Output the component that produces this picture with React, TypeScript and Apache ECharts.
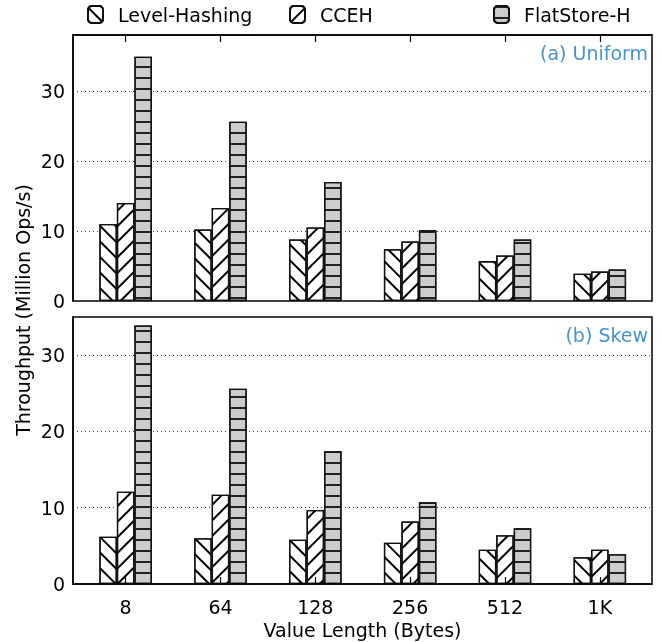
import React, { useEffect, useRef } from 'react';
import * as echarts from 'echarts';

const categories = ['8', '64', '128', '256', '512', '1K'];
const seriesNames = ['Level-Hashing', 'CCEH', 'FlatStore-H'];
const uniformLevel = [11.0, 10.2, 8.8, 7.4, 5.7, 3.9];
const uniformCCEH = [14.0, 13.3, 10.5, 8.5, 6.5, 4.2];
const uniformFlat = [34.9, 25.6, 17.0, 10.1, 8.8, 4.5];
const skewLevel = [6.2, 6.0, 5.8, 5.4, 4.5, 3.5];
const skewCCEH = [12.1, 11.7, 9.7, 8.2, 6.4, 4.5];
const skewFlat = [33.9, 25.6, 17.4, 10.7, 7.3, 3.9];
const panelTitles = ['(a) Uniform', '(b) Skew'];
const yMax = [38, 35];
const xTitle = 'Value Length (Bytes)';
const yTitle = 'Throughput (Million Ops/s)';

const FONT = 'DejaVu Sans';
const FS = 19;
const BLUE = '#4a93c8';

const decals = [
  { symbol: 'rect', symbolSize: 1, color: '#000', backgroundColor: 'transparent', dashArrayX: [1, 0], dashArrayY: [1.25, 8.75], rotation: Math.PI / 4 },
  { symbol: 'rect', symbolSize: 1, color: '#000', backgroundColor: 'transparent', dashArrayX: [1, 0], dashArrayY: [1.25, 8.75], rotation: -Math.PI / 4 },
  { symbol: 'rect', symbolSize: 1, color: '#222', backgroundColor: 'transparent', dashArrayX: [1, 0], dashArrayY: [1.5, 8.5], rotation: 0 },
];
const fills = ['#ffffff', '#ffffff', '#cccccc'];

export default function App() {
  const ref = useRef<HTMLDivElement>(null);
  useEffect(() => {
    if (!ref.current) return;
    const chart = echarts.init(ref.current, null, { renderer: 'svg' });
    const panels = [
      [uniformLevel, uniformCCEH, uniformFlat],
      [skewLevel, skewCCEH, skewFlat],
    ];
    const idx = categories.map((_, i) => i);
    const series: any[] = [];
    panels.forEach((vals, p) => {
      vals.forEach((arr, s) => {
        series.push({
          type: 'bar',
          name: seriesNames[s],
          xAxisIndex: p,
          yAxisIndex: p,
          barWidth: 17.5,
          barGap: '0%',
          data: arr.map((v, i) => [i, v]),
          itemStyle: {
            color: fills[s],
            borderColor: '#111',
            borderWidth: 1.3,
            decal: decals[s],
          },
          emphasis: { disabled: true },
        });
      });
    });
    const grids = [
      { left: 73, top: 35, width: 579, height: 266 },
      { left: 73, top: 317, width: 579, height: 267 },
    ].map((g) => ({ ...g, show: true, borderColor: '#000', borderWidth: 1.5, backgroundColor: 'transparent' }));

    const xAxes = [0, 1].map((p) => ({
      type: 'value',
      gridIndex: p,
      min: -0.555,
      max: 5.55,
      position: p === 0 ? 'top' : 'bottom',
      z: 5,
      axisLine: { show: true, onZero: false, lineStyle: { color: '#000', width: 1.5 } },
      axisTick: { show: true, inside: true, length: 7, customValues: idx, lineStyle: { color: '#000', width: 1.2 } },
      axisLabel: p === 0
        ? { show: false }
        : {
            show: true,
            customValues: idx,
            formatter: (v: number) => categories[Math.round(v)] ?? '',
            color: '#000',
            fontSize: FS,
            fontFamily: FONT,
            margin: 13,
          },
      splitLine: { show: false },
      name: p === 1 ? xTitle : '',
      nameLocation: 'middle',
      nameGap: 36,
      nameTextStyle: { color: '#000', fontSize: FS, fontFamily: FONT },
    }));
    const yAxes = [0, 1].map((p) => ({
      type: 'value',
      gridIndex: p,
      min: 0,
      max: yMax[p],
      interval: 10,
      axisLine: { show: true, onZero: false, lineStyle: { color: '#000', width: 1.5 } },
      axisTick: { show: false },
      axisLabel: { color: '#000', fontSize: FS, fontFamily: FONT, margin: 8, showMaxLabel: false },
      splitLine: { show: true, lineStyle: { color: '#444', type: [1, 3], width: 1 } },
    }));
    chart.setOption({
      animation: false,
      textStyle: { fontFamily: FONT },
      grid: grids,
      xAxis: xAxes,
      yAxis: yAxes,
      legend: seriesNames.map((n, i) => ({
        data: [n],
        left: [82, 284, 488][i],
        top: 0,
        itemWidth: 15,
        itemHeight: 17,
        icon: 'roundRect',
        selectedMode: false,
        textStyle: { color: '#000', fontSize: FS, fontFamily: FONT, padding: [0, 0, 0, 10] },
      })),
      title: panelTitles.map((t, p) => ({
        text: t,
        right: 9,
        top: p === 0 ? 38 : 320,
        textStyle: { color: BLUE, fontSize: FS, fontWeight: 'normal', fontFamily: FONT },
      })),
      graphic: [
        {
          type: 'text',
          x: 23,
          y: 310,
          rotation: Math.PI / 2,
          style: { text: yTitle, font: `${FS}px "${FONT}"`, fill: '#000', align: 'center', verticalAlign: 'middle' },
        },
      ],
      series,
    });
    return () => chart.dispose();
  }, []);
  return <div ref={ref} style={{ position: 'fixed', left: 0, top: 0, width: 662, height: 642 }} />;
}
